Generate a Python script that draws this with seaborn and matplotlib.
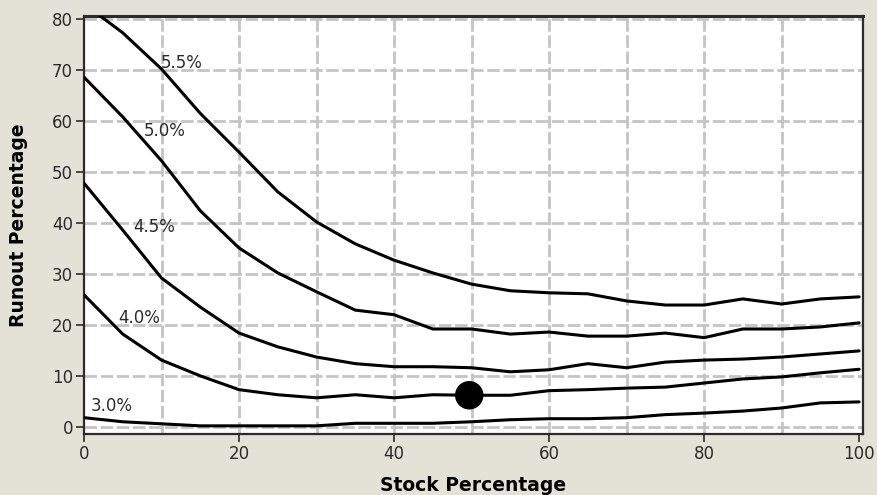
import matplotlib
matplotlib.use("Agg")
import matplotlib.pyplot as plt
import pandas as pd
import seaborn as sns

# stock percentage (x) shared by all curves
stock = [0, 5, 10, 15, 20, 25, 30, 35, 40, 45, 50, 55, 60, 65, 70, 75, 80, 85, 90, 95, 100]

# runout percentage for each withdrawal rate
runout_55 = [83.0, 77.3, 70.2, 61.5, 53.9, 46.1, 40.2, 35.9, 32.7, 30.2, 28.0, 26.7, 26.3, 26.1, 24.7, 23.9, 23.9, 25.1, 24.1, 25.1, 25.5]
runout_50 = [68.6, 60.8, 52.2, 42.4, 35.1, 30.2, 26.5, 22.9, 22.0, 19.2, 19.2, 18.2, 18.6, 17.8, 17.8, 18.4, 17.5, 19.2, 19.2, 19.6, 20.4]
runout_45 = [47.8, 38.6, 29.2, 23.5, 18.4, 15.7, 13.7, 12.4, 11.8, 11.8, 11.6, 10.8, 11.2, 12.4, 11.6, 12.7, 13.1, 13.3, 13.7, 14.3, 14.9]
runout_40 = [25.9, 18.2, 13.1, 10.0, 7.3, 6.3, 5.7, 6.3, 5.7, 6.3, 6.2, 6.2, 7.1, 7.3, 7.6, 7.8, 8.6, 9.4, 9.8, 10.6, 11.3]
runout_30 = [1.8, 1.0, 0.6, 0.2, 0.2, 0.2, 0.2, 0.7, 0.7, 0.7, 1.0, 1.4, 1.6, 1.6, 1.8, 2.4, 2.7, 3.1, 3.7, 4.7, 4.9]

rates = ["5.5%", "5.0%", "4.5%", "4.0%", "3.0%"]
label_x = [9.9, 7.7, 6.4, 4.4, 0.9]
label_y = [71.4, 58.0, 39.2, 21.4, 4.1]

point_x = [49.7]
point_y = [6.2]

bg = "#E4E1D6"
ink = "#2b2b2b"

sns.set_theme(style="whitegrid")
plt.rcParams['font.family'] = ['DejaVu Sans']

fig = plt.figure(figsize=(8.77, 4.95), dpi=100)
fig.patch.set_facecolor(bg)
ax = fig.add_axes([84 / 877, 1 - 434 / 495, (863 - 84) / 877, (434 - 16) / 495])
ax.set_facecolor("white")

curves = [runout_55, runout_50, runout_45, runout_40, runout_30]
df = pd.concat([pd.DataFrame({"stock": stock, "runout": c, "rate": r}) for c, r in zip(curves, rates)])

sns.lineplot(data=df, x="stock", y="runout", units="rate", estimator=None,
             color="black", linewidth=2.2, ax=ax, zorder=3)
sns.scatterplot(x=point_x, y=point_y, color="black", s=420, ax=ax, zorder=4, edgecolor="none")

for r, lx, ly in zip(rates, label_x, label_y):
    ax.text(lx, ly, r, fontsize=12, color=ink, va="center", ha="left", zorder=5)

ax.set_xlim(0, 100.5)
ax.set_ylim(-1.4, 80.6)
ax.set_xticks([0, 20, 40, 60, 80, 100])
ax.set_yticks([0, 10, 20, 30, 40, 50, 60, 70, 80])
ax.set_xticks(range(10, 100, 20), minor=True)
ax.grid(False)
grid_kw = dict(color="#c4c4c4", linestyle=(0, (4.5, 1.3)), linewidth=2)
ax.grid(True, which="both", axis="x", **grid_kw)
ax.grid(True, which="major", axis="y", **grid_kw)
ax.set_axisbelow(True)
# no grid line at the right border (x=100) or on the left spine
xgl = ax.get_xgridlines()
xgl[0].set_visible(False)
xgl[-1].set_visible(False)

for side in ["left", "bottom", "top", "right"]:
    ax.spines[side].set_visible(True)
    ax.spines[side].set_color(ink)
ax.spines["left"].set_linewidth(1.6)
ax.spines["bottom"].set_linewidth(1.6)
ax.spines["top"].set_linewidth(2.2)
ax.spines["right"].set_linewidth(1.6)

ax.tick_params(axis="both", which="major", length=6, width=1.2, color=ink,
               labelsize=12, labelcolor=ink, pad=2, left=True, bottom=True)
ax.tick_params(axis="x", which="minor", length=0)

ax.set_xlabel("Stock Percentage", fontsize=13.5, fontweight="bold", color="black")
ax.set_ylabel("Runout Percentage", fontsize=13.5, fontweight="bold", color="black")
ax.xaxis.set_label_coords(0.5, -0.1)
ax.yaxis.set_label_coords(-0.072, 0.5)

fig.savefig("out.png", dpi=100, facecolor=bg)
